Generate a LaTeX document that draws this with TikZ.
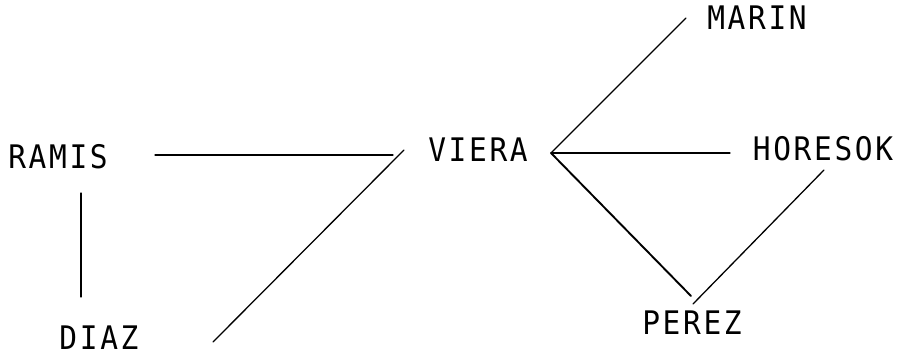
\documentclass[tikz,border=0pt]{standalone}
\usepackage{fontspec}
\newfontfamily\plotfont[LetterSpace=9]{DejaVu Sans Mono}
\usetikzlibrary{calc}
\begin{document}
\begin{tikzpicture}[x=1pt,y=1pt,
  lbl/.style={inner sep=0pt,yscale=1.1,transform shape,font=\plotfont\fontsize{29.5}{30}\selectfont},
  link/.style={line width=1.3pt,line cap=round},
  boldlink/.style={line width=1.9pt,line cap=round}]
\useasboundingbox (0,0) rectangle (905,356);
\node[lbl] (ramis) at (58,199) {RAMIS};
\node[lbl] (diaz) at (99,18) {DIAZ};
\node[lbl] (viera) at (478,206) {VIERA};
\node[lbl] (marin) at (757,338) {MARIN};
\node[lbl] (horesok) at (823,207) {HORESOK};
\node[lbl] (perez) at (692,33) {PEREZ};
% connector ends
\coordinate (ramisR) at (155,201);
\coordinate (ramisB) at (81,163);
\coordinate (diazT) at (81,59);
\coordinate (diazR) at (213,14);
\coordinate (vieraL) at (393,201);
\coordinate (vieraLL) at (404,206);
\coordinate (vieraR) at (551,203);
\coordinate (marinL) at (686,338);
\coordinate (horesokL) at (730,203);
\coordinate (horesokB) at (824,186);
\coordinate (perezT) at (691,60);
\coordinate (perezTR) at (693,52);
\draw[link] (ramisR) -- (vieraL);
\draw[link] (ramisB) -- (diazT);
\draw[link] (diazR) -- (vieraLL);
\draw[link] (vieraR) -- (marinL);
\draw[link] (vieraR) -- (horesokL);
\draw[boldlink] (vieraR) -- (perezT);
\draw[link] (perezTR) -- (horesokB);
\end{tikzpicture}
\end{document}
